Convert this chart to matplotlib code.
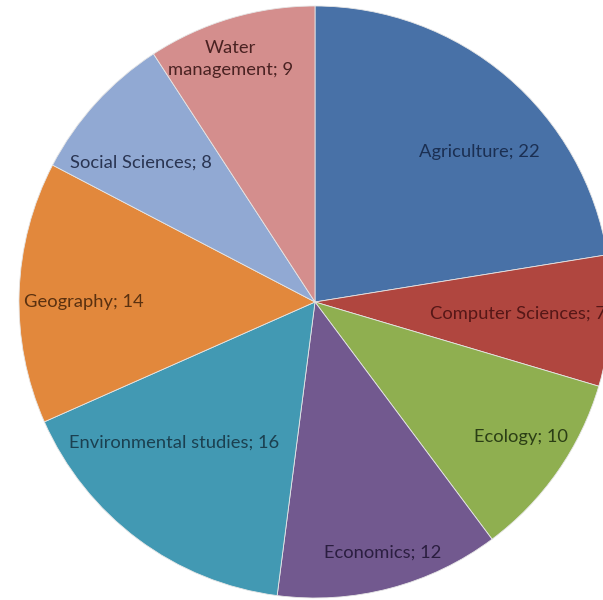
import matplotlib
matplotlib.use("Agg")
import matplotlib.pyplot as plt
import numpy as np

# Number of items per research field
categories = ["Agriculture", "Computer Sciences", "Ecology", "Economics",
              "Environmental studies", "Geography", "Social Sciences",
              "Water\nmanagement"]
values = [22, 7, 10, 12, 16, 14, 8, 9]

colors = ["#4871A7", "#B0463F", "#8FAF50", "#72598F",
          "#4299B3", "#E2883C", "#91A9D3", "#D48E8D"]
label_colors = ["#1B2F52", "#561717", "#2B3E15", "#2B1E40",
                "#1B4050", "#5A3110", "#2A3552", "#4A2222"]
# label placement: fraction of the radius and angular shift from the wedge middle
label_radius = [0.751, 0.687, 0.832, 0.878, 0.674, 0.780, 0.752, 0.869]
label_shift = [-7.2, 0.3, 1.7, 0.3, -8.3, 1.8, 3.6, 2.6]

plt.rcParams['font.family'] = ['Lato', 'DejaVu Sans']

W, H = 603, 600
fig = plt.figure(figsize=(W / 100, H / 100), dpi=100)
ax = fig.add_axes([0, 0, 1, 1])

wedges, _ = ax.pie(values, colors=colors, startangle=90, counterclock=False,
                   radius=1.0, center=(0, 0),
                   wedgeprops=dict(edgecolor="#E6E6E6", linewidth=0.6))

cx, cy, r = 315.0, 302.0, 296.0  # centre and radius in pixels
ax.set_xlim(-cx / r, (W - cx) / r)
ax.set_ylim(-(H - cy) / r, cy / r)
ax.set_aspect("equal", adjustable="box")
ax.axis("off")

for w, name, v, lr, sh, tc in zip(wedges, categories, values,
                                  label_radius, label_shift, label_colors):
    mid = np.deg2rad((w.theta1 + w.theta2) / 2 + sh)
    x, y = lr * np.cos(mid), lr * np.sin(mid)
    ax.text(x, y, f"{name}; {v}", ha="center", va="center",
            fontsize=13.2, color=tc, linespacing=1.4)

fig.savefig("out.png", dpi=100)
